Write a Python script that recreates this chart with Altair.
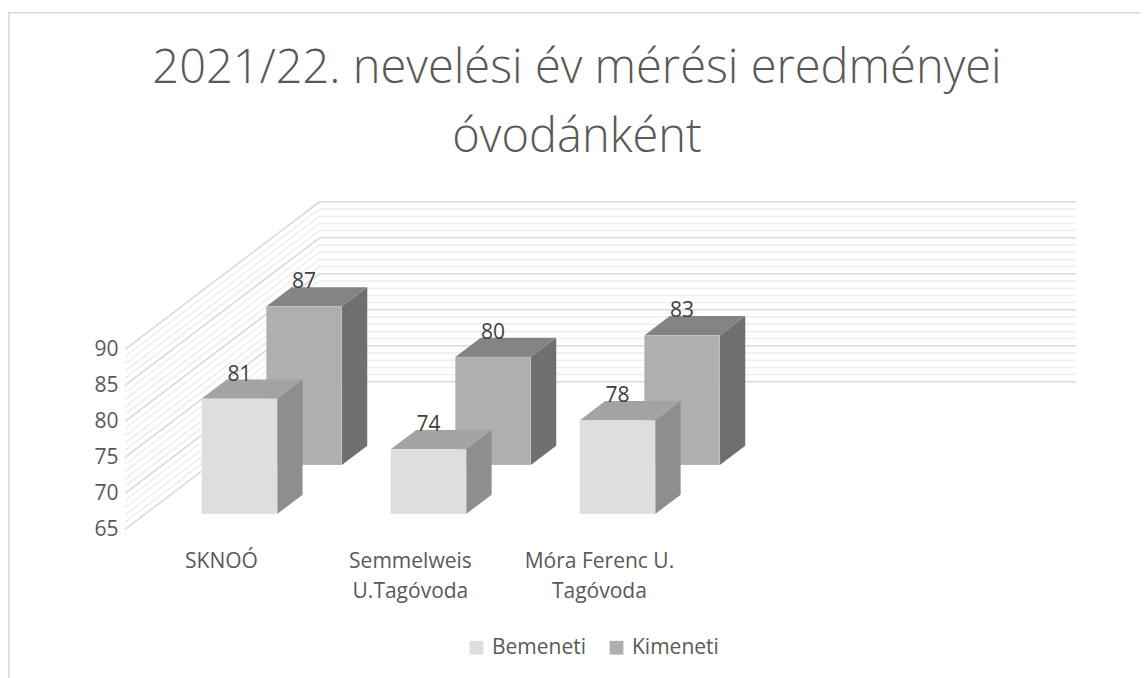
import altair as alt
import pandas as pd

TITLE = ["2021/22. nevelési év mérési eredményei", "óvodánként"]
CATEGORIES = ["SKNOÓ", "Semmelweis\nU.Tagóvoda", "Móra Ferenc U.\nTagóvoda"]
SERIES = ["Bemeneti", "Kimeneti"]
BEMENETI = [81, 74, 78]
KIMENETI = [87, 80, 83]
TICKS = [65, 70, 75, 80, 85, 90]
FACE = {"Bemeneti": "#DEDEDE", "Kimeneti": "#AFAFAF"}
TOP = {"Bemeneti": "#A3A3A3", "Kimeneti": "#848484"}
SIDE = {"Bemeneti": "#8E8E8E", "Kimeneti": "#6F6F6F"}

# oblique projection of the 3-D chart
PX_PER_UNIT = 7.2
FLOOR = 65
SLANT = 194.5 / 147.5
WALL_DEPTH = 147.5
WALL_LEFT, WALL_RIGHT = 125.0, 1075.7
CAT_X = [181.5, 370.5, 559.5]
SERIES_DEPTH = {"Bemeneti": 15.3, "Kimeneti": 64.3}
BAR_W, BAR_D = 75.5, 19.3
FONT = "Open Sans"
W, H = 1132, 670
X_DOM = [8, 8 + W]
Y_DOM = [FLOOR + (529.3 - (8 + H)) / PX_PER_UNIT, FLOOR + (529.3 - 8) / PX_PER_UNIT]


def up(px):
    return px / PX_PER_UNIT


Xa = alt.X("x:Q", scale=alt.Scale(domain=X_DOM, nice=False, zero=False), axis=None)
Ya = alt.Y("y:Q", scale=alt.Scale(domain=Y_DOM, nice=False, zero=False),
           axis=alt.Axis(values=TICKS, domain=False, ticks=False, grid=False, title=None, offset=-110,
                         labelFont=FONT, labelFontSize=21, labelColor="#595959", labelPadding=0))

# walls
grid = []
for v in range(65, 91):
    major = v % 5 == 0
    pts = [(WALL_LEFT, v), (WALL_LEFT + WALL_DEPTH * SLANT, v + up(WALL_DEPTH)), (WALL_RIGHT, v + up(WALL_DEPTH))]
    for i, (x, y) in enumerate(pts):
        grid.append({"x": x, "y": y, "v": v, "i": i, "major": major})
gdf = pd.DataFrame(grid)
g_minor = alt.Chart(gdf[~gdf.major]).mark_line(stroke="#EDEDED", strokeWidth=1.5).encode(
    x=Xa, y=Ya, detail="v:N", order="i:Q")
g_major = alt.Chart(gdf[gdf.major]).mark_line(stroke="#D9D9D9", strokeWidth=1.5).encode(
    x=Xa, y=Ya, detail="v:N", order="i:Q")

# bars
faces, polys, labels = [], [], []
for s, vals in zip(SERIES, [BEMENETI, KIMENETI]):
    d = SERIES_DEPTH[s]
    for c, (cx, v) in enumerate(zip(CAT_X, vals)):
        l = cx + d * SLANT
        r = l + BAR_W
        dx = BAR_D * SLANT
        base = FLOOR + up(d)
        top = v + up(d)
        h = up(BAR_D)
        faces.append({"x": l, "x2": r, "y": top, "y2": base, "series": s})
        sid = f"{s}{c}s"
        polys += [
            {"id": sid, "i": 0, "x": r, "y": top, "y2": base, "fill": SIDE[s], "series": s},
            {"id": sid, "i": 1, "x": r + dx, "y": top + h, "y2": base + h, "fill": SIDE[s], "series": s},
        ]
        tid = f"{s}{c}t"
        polys += [
            {"id": tid, "i": 0, "x": l, "y": top, "y2": top, "fill": TOP[s], "series": s},
            {"id": tid, "i": 1, "x": l + dx, "y": top + h, "y2": top, "fill": TOP[s], "series": s},
            {"id": tid, "i": 2, "x": r, "y": top + h, "y2": top, "fill": TOP[s], "series": s},
            {"id": tid, "i": 3, "x": r + dx, "y": top + h, "y2": top + h, "fill": TOP[s], "series": s},
        ]
        labels.append({"x": (l + r) / 2, "y": top + up(24.3), "text": str(v)})
fdf = pd.DataFrame(faces)
pdf = pd.DataFrame(polys)
ldf = pd.DataFrame(labels)

color = alt.Color("series:N", scale=alt.Scale(domain=SERIES, range=[FACE[s] for s in SERIES]),
                  legend=alt.Legend(title=None, orient="none", legendX=458, legendY=629, direction="horizontal",
                                    symbolType="square", symbolSize=190, symbolStrokeWidth=0,
                                    labelFont=FONT, labelFontSize=21, labelColor="#595959",
                                    columnPadding=19, labelOffset=5))


def polys_of(s):
    return alt.Chart(pdf[pdf.series == s]).mark_area(interpolate="linear", orient="vertical").encode(
        x=Xa, y=Ya, y2="y2:Q", detail="id:N", fill=alt.Fill("fill:N", scale=None))


def faces_of(s):
    return alt.Chart(fdf[fdf.series == s]).mark_rect(strokeWidth=1, strokeOpacity=0.15, stroke="#FFFFFF").encode(
        x=Xa, x2="x2:Q", y=Ya, y2="y2:Q", color=color)


value_labels = alt.Chart(ldf).mark_text(font=FONT, fontSize=21, color="#404040", baseline="middle").encode(
    x=Xa, y=Ya, text="text:N")

cdf = pd.DataFrame({"x": [c + 15.3 * SLANT + BAR_W / 2 - 18 for c in CAT_X],
                    "y": [FLOOR + (529.3 - 551) / PX_PER_UNIT] * 3,
                    "text": CATEGORIES})
cat_labels = alt.Chart(cdf).mark_text(font=FONT, fontSize=21, color="#595959", baseline="top", lineBreak="\n",
                                      lineHeight=30).encode(x=Xa, y=Ya, text="text:N")

frame_top = alt.Chart(pd.DataFrame({"a": [0]})).mark_rule(stroke="#D9D9D9", strokeWidth=1.6).encode(
    x=alt.value(0), x2=alt.value(W), y=alt.value(4.8))
frame_left = alt.Chart(pd.DataFrame({"a": [0]})).mark_rule(stroke="#D9D9D9", strokeWidth=1.6).encode(
    x=alt.value(0.8), y=alt.value(4), y2=alt.value(H))

chart = alt.layer(
    frame_top, frame_left, g_minor, g_major,
    polys_of("Kimeneti"), faces_of("Kimeneti"),
    polys_of("Bemeneti"), faces_of("Bemeneti"),
    value_labels, cat_labels,
).properties(
    width=W, height=H, padding=0, autosize=alt.AutoSizeParams(type="none"),
    title=alt.Title(text=TITLE, font=FONT, fontSize=47, fontWeight=300, color="#595959", anchor="middle",
                    lineHeight=69, dy=158, dx=3),
).configure_view(stroke=None)

chart.save("out.html", embed_options={"renderer": "svg", "actions": False})
